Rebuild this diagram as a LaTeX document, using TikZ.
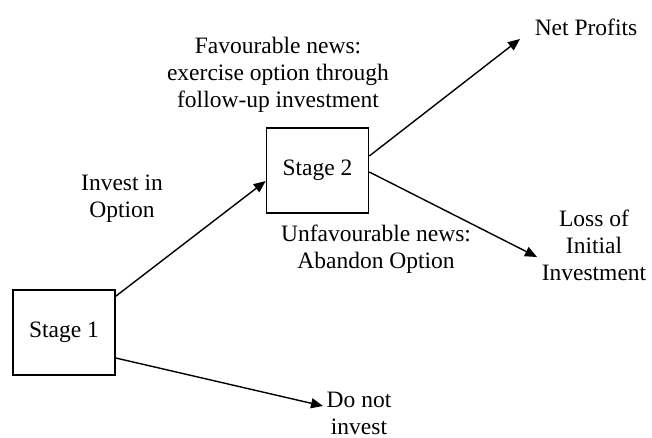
\documentclass[tikz,border=0pt]{standalone}
\usepackage{fontspec}
\setmainfont{Liberation Serif}
\usetikzlibrary{arrows.meta}
\begin{document}
\begin{tikzpicture}[x=1pt,y=-1pt,
  txt/.style={font=\fontsize{23.5}{27}\selectfont, align=center, inner sep=0pt},
  stagebox/.style={draw, line width=1.6pt, minimum width=102pt, minimum height=85pt, inner sep=0pt, font=\fontsize{23.5}{27}\selectfont},
  conn/.style={line width=1.4pt, -{Triangle[length=12pt,width=10pt]}}]
\useasboundingbox (0,0) rectangle (652,438);
\node[stagebox] (s1) at (64,332.5) {Stage 1};
\node[stagebox] (s2) at (317.5,170.5) {Stage 2};
\node[txt] (fav) at (278,75) {Favourable news:\\exercise option through\\follow-up investment};
\node[txt] (unfav) at (376,249) {Unfavourable news:\\Abandon Option};
\node[txt] (inv) at (122,198.5) {Invest in\\Option};
\node[txt] (dni) at (359,413) {Do not\\invest};
\node[txt] (loss) at (594,245.5) {Loss of\\Initial\\Investment};
\node[txt] (net) at (586,27) {Net Profits};
\coordinate (tnet) at (520,39);
\coordinate (tloss) at (537,257);
\coordinate (tdni) at (323,406);
\draw[conn] ([yshift=-7pt]s1.north east) -- ([yshift=-10.5pt]s2.west);
\draw[conn] ([yshift=14.5pt]s2.east) -- (tnet);
\draw[conn] ([yshift=-1.5pt]s2.east) -- (tloss);
\draw[conn] ([yshift=-25.5pt]s1.east) -- (tdni);
\end{tikzpicture}
\end{document}
